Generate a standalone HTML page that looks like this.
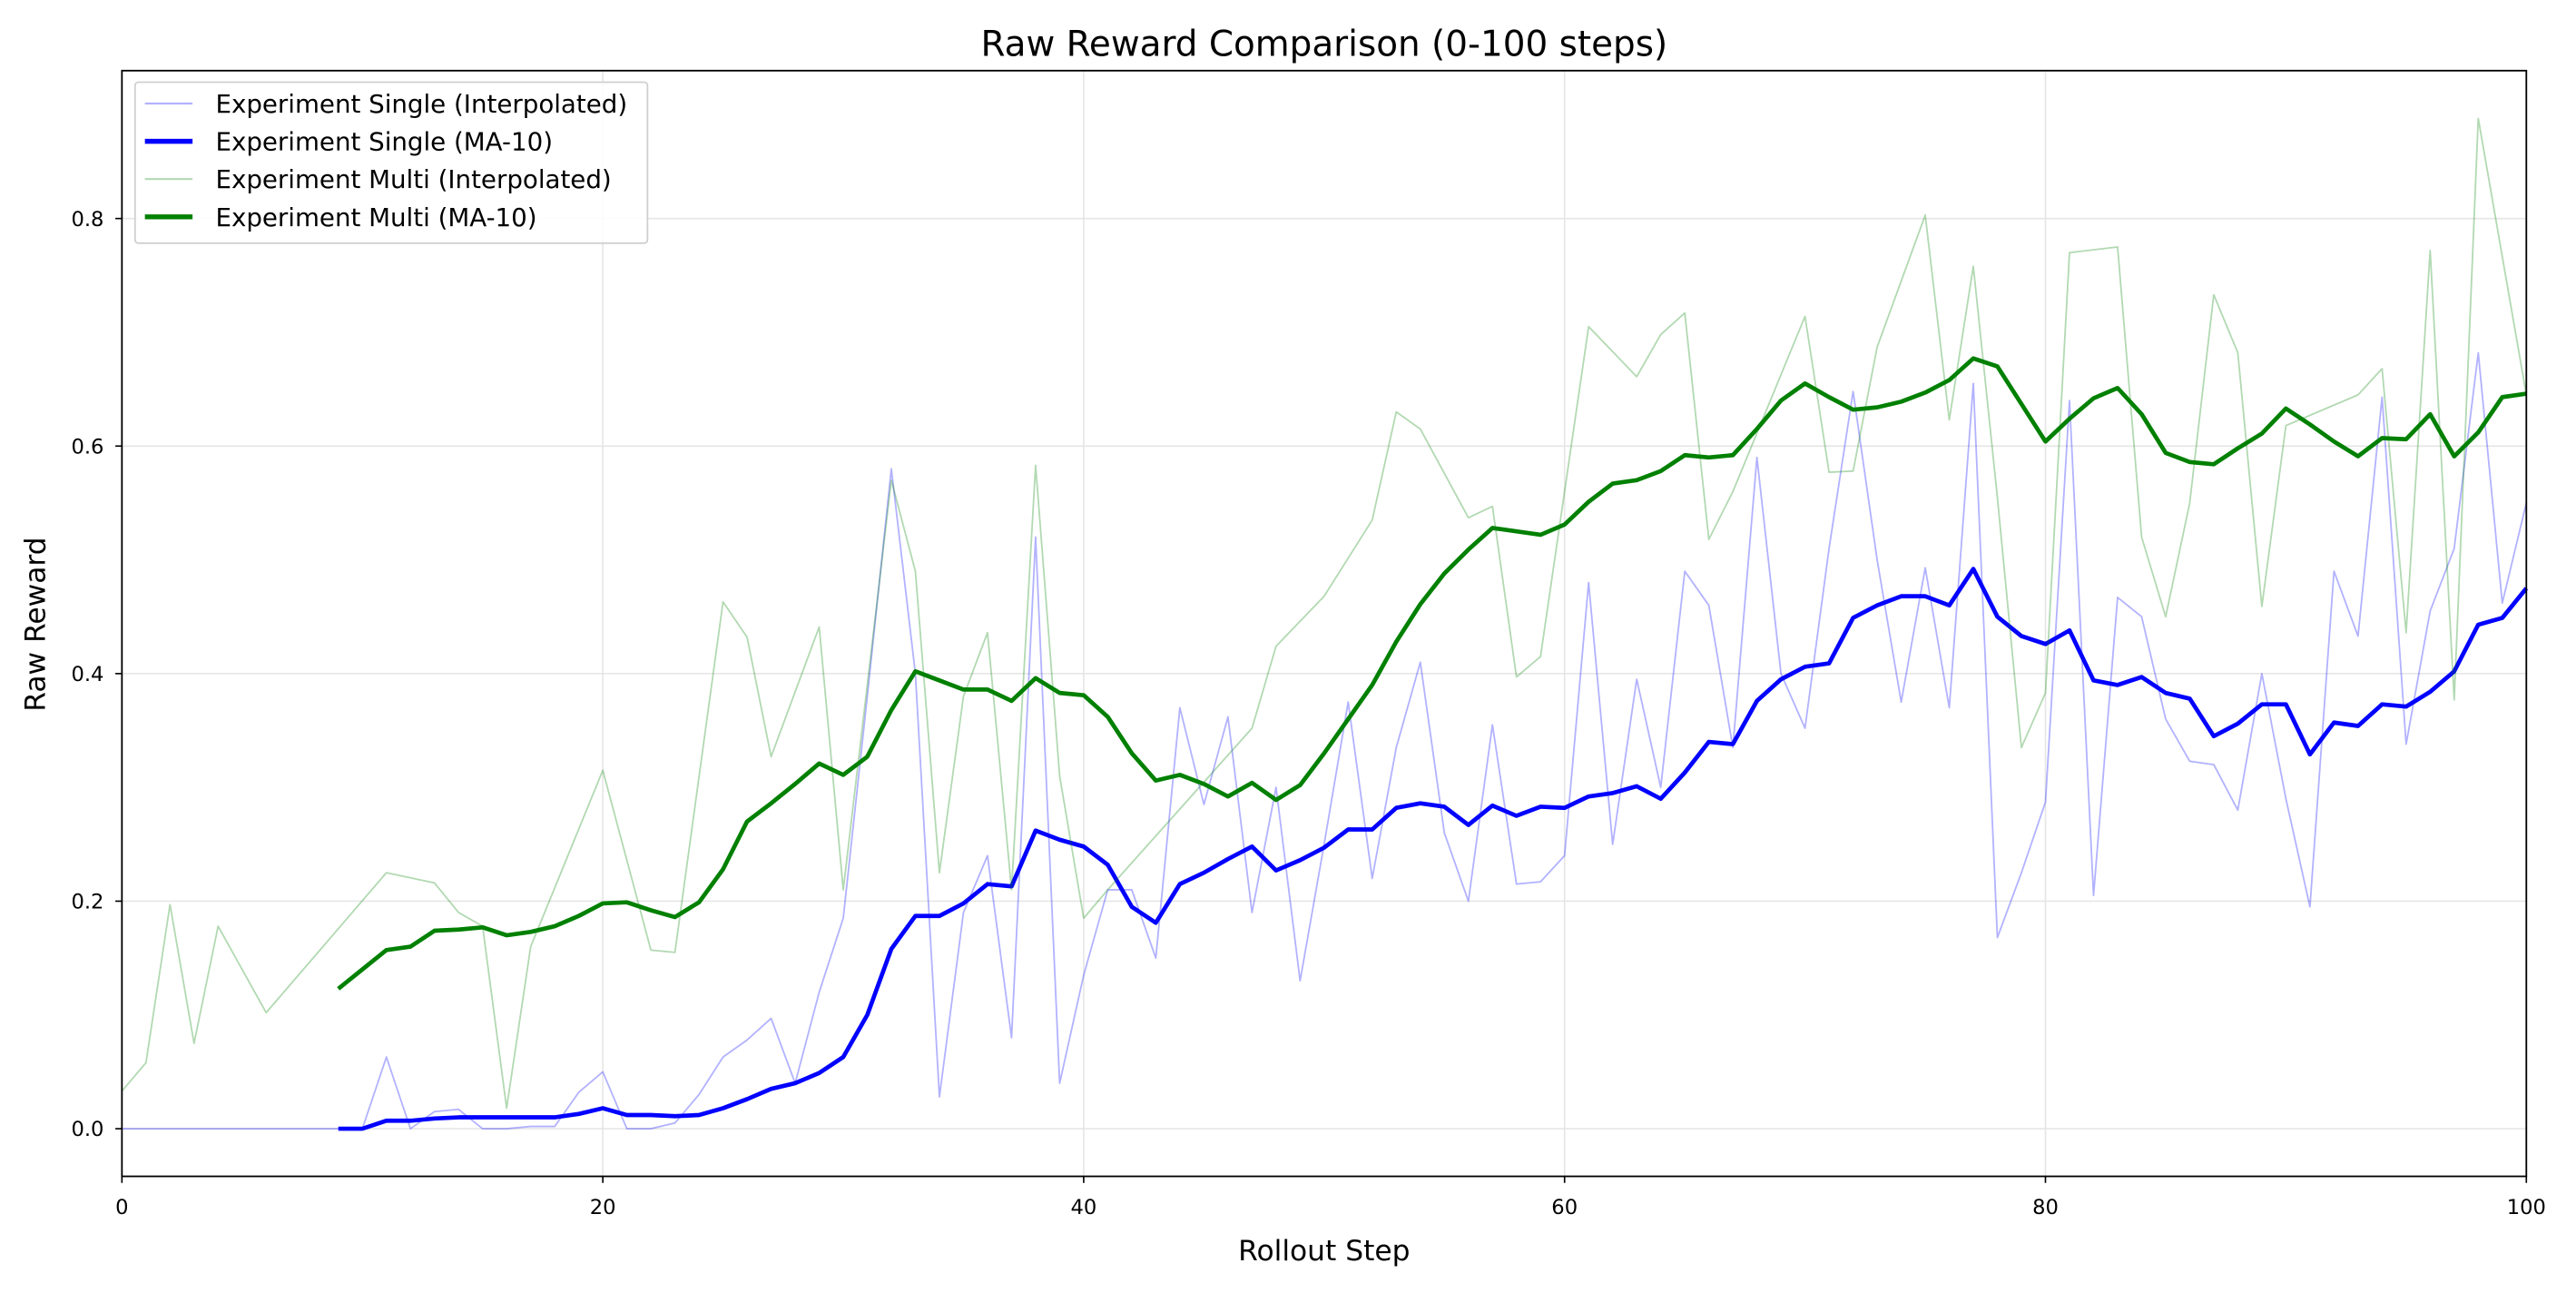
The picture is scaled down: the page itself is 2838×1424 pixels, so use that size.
<!DOCTYPE html>
<html><head><meta charset="utf-8"><style>
html,body{margin:0;padding:0;background:#fff;}
svg{display:block;font-family:"DejaVu Sans","Liberation Sans",sans-serif;}
</style></head><body>
<svg id="c" width="2838" height="1424" viewBox="0 0 1568 787" xmlns="http://www.w3.org/2000/svg">
<rect width="1568" height="787" fill="#fff"/>
<g id="grid" stroke="#e6e6e6" stroke-width="0.9"></g>
<g id="series" fill="none" stroke-linejoin="round" stroke-linecap="butt"></g>
<rect x="74" y="43" width="1464" height="673" fill="none" stroke="#000" stroke-width="1"/>
<g id="ticks" stroke="#000" stroke-width="0.9"></g>
<g font-size="12.5" fill="#000" text-anchor="middle">
<text x="74" y="739">0</text><text x="366.8" y="739">20</text><text x="659.6" y="739">40</text><text x="952.4" y="739">60</text><text x="1245.2" y="739">80</text><text x="1538" y="739">100</text>
</g>
<g font-size="12.5" fill="#000" text-anchor="end">
<text x="63" y="691.5">0.0</text><text x="63" y="553">0.2</text><text x="63" y="414.5">0.4</text><text x="63" y="276">0.6</text><text x="63" y="137.5">0.8</text>
</g>
<text x="806" y="767" font-size="17.3" text-anchor="middle">Rollout Step</text>
<text transform="translate(27,380) rotate(-90)" font-size="17.3" text-anchor="middle">Raw Reward</text>
<text x="806" y="34" font-size="21.5" text-anchor="middle">Raw Reward Comparison (0-100 steps)</text>
<g>
<rect x="82" y="50" width="312" height="98" rx="2" fill="#fff" fill-opacity="0.85" stroke="#d0d0d0" stroke-width="1"/>
<line x1="88" x2="117" y1="63" y2="63" stroke="#0000ff" stroke-opacity="0.3" stroke-width="1.2"/>
<line x1="88" x2="117" y1="86" y2="86" stroke="#0000ff" stroke-width="3"/>
<line x1="88" x2="117" y1="109" y2="109" stroke="#008000" stroke-opacity="0.3" stroke-width="1.2"/>
<line x1="88" x2="117" y1="132" y2="132" stroke="#008000" stroke-width="3"/>
<g font-size="15.3" fill="#000">
<text x="131" y="68.5">Experiment Single (Interpolated)</text>
<text x="131" y="91.5">Experiment Single (MA-10)</text>
<text x="131" y="114.5">Experiment Multi (Interpolated)</text>
<text x="131" y="137.5">Experiment Multi (MA-10)</text>
</g>
</g>
<script>
(function(){
var X=function(s){return 74+14.64*s;},Y=function(v){return 687-692.5*v;};
var NS="http://www.w3.org/2000/svg";
function el(p,t,a){var e=document.createElementNS(NS,t);for(var k in a)e.setAttribute(k,a[k]);p.appendChild(e);return e;}
var g=document.getElementById('grid'),tk=document.getElementById('ticks');
for(var s=0;s<=100;s+=20){el(g,'line',{x1:X(s),x2:X(s),y1:43,y2:716});el(tk,'line',{x1:X(s),x2:X(s),y1:716,y2:720});}
for(var v=0;v<=0.81;v+=0.2){el(g,'line',{x1:74,x2:1538,y1:Y(v),y2:Y(v)});el(tk,'line',{x1:70,x2:74,y1:Y(v),y2:Y(v)});}
var si={0:0,9:0,10:0,11:0.063,12:0,13:0.015,14:0.017,15:0,16:0,17:0.002,18:0.002,19:0.032,20:0.05,21:0,22:0,23:0.005,24:0.03,25:0.063,26:0.078,27:0.097,28:0.04,29:0.12,30:0.185,31:0.38,32:0.58,33:0.4,34:0.028,35:0.19,36:0.24,37:0.08,38:0.52,39:0.04,40:0.135,41:0.21,42:0.21,43:0.15,44:0.37,45:0.285,46:0.362,47:0.19,48:0.3,49:0.13,50:0.25,51:0.375,52:0.22,53:0.335,54:0.41,55:0.26,56:0.2,57:0.355,58:0.215,59:0.217,60:0.24,61:0.48,62:0.25,63:0.395,64:0.3,65:0.49,66:0.46,67:0.335,68:0.59,69:0.4,70:0.352,71:0.51,72:0.648,73:0.5,74:0.375,75:0.493,76:0.37,77:0.655,78:0.168,79:0.225,80:0.287,81:0.64,82:0.205,83:0.467,84:0.45,85:0.36,86:0.323,87:0.32,88:0.28,89:0.4,90:0.29,91:0.195,92:0.49,93:0.433,94:0.643,95:0.338,96:0.455,97:0.51,98:0.682,99:0.462,100:0.55};
var mi={0:0.033,1:0.058,2:0.197,3:0.075,4:0.178,5:0.14,6:0.102,11:0.225,13:0.216,14:0.19,15:0.178,16:0.018,17:0.16,20:0.315,22:0.157,23:0.155,25:0.463,26:0.432,27:0.327,29:0.441,30:0.21,31:0.39,32:0.57,33:0.49,34:0.225,35:0.38,36:0.436,37:0.21,38:0.583,39:0.31,40:0.185,41:0.21,47:0.352,48:0.424,50:0.468,52:0.535,53:0.63,54:0.615,56:0.537,57:0.547,58:0.397,59:0.415,61:0.705,63:0.661,64:0.698,65:0.717,66:0.518,67:0.56,70:0.714,71:0.577,72:0.578,73:0.687,75:0.803,76:0.623,77:0.758,78:0.555,79:0.335,80:0.383,81:0.77,83:0.775,84:0.52,85:0.45,86:0.55,87:0.733,88:0.682,89:0.459,90:0.618,93:0.645,94:0.668,95:0.436,96:0.772,97:0.377,98:0.888,100:0.645};
var sm=[0,0,0.007,0.007,0.009,0.01,0.01,0.01,0.01,0.01,0.013,0.018,0.012,0.012,0.011,0.012,0.018,0.026,0.035,0.04,0.049,0.063,0.1,0.158,0.187,0.187,0.198,0.215,0.213,0.262,0.254,0.248,0.232,0.195,0.181,0.215,0.225,0.237,0.248,0.227,0.236,0.247,0.263,0.263,0.282,0.286,0.283,0.267,0.284,0.275,0.283,0.282,0.292,0.295,0.301,0.29,0.313,0.34,0.338,0.376,0.395,0.406,0.409,0.449,0.46,0.468,0.468,0.46,0.492,0.45,0.433,0.426,0.438,0.394,0.39,0.397,0.383,0.378,0.345,0.356,0.373,0.373,0.329,0.357,0.354,0.373,0.371,0.384,0.402,0.443,0.449,0.475];
var mm=[0.123,0.14,0.157,0.16,0.174,0.175,0.177,0.17,0.173,0.178,0.187,0.198,0.199,0.192,0.186,0.199,0.228,0.27,0.286,0.303,0.321,0.311,0.327,0.368,0.402,0.394,0.386,0.386,0.376,0.396,0.383,0.381,0.362,0.33,0.306,0.311,0.303,0.292,0.304,0.289,0.302,0.33,0.36,0.39,0.428,0.461,0.488,0.509,0.528,0.525,0.522,0.531,0.551,0.567,0.57,0.578,0.592,0.59,0.592,0.615,0.64,0.655,0.643,0.632,0.634,0.639,0.647,0.658,0.677,0.67,0.637,0.604,0.624,0.642,0.651,0.628,0.594,0.586,0.584,0.598,0.611,0.633,0.619,0.604,0.591,0.607,0.606,0.628,0.591,0.612,0.643,0.646];
function ptsObj(o){return Object.keys(o).map(Number).sort(function(a,b){return a-b}).map(function(k){return X(k).toFixed(2)+','+Y(o[k]).toFixed(2)}).join(' ');}
function ptsArr(a,s0){return a.map(function(v,i){return X(s0+i).toFixed(2)+','+Y(v).toFixed(2)}).join(' ');}
var S=document.getElementById('series');
el(S,'polyline',{points:ptsObj(si),stroke:'#0000ff','stroke-opacity':0.3,'stroke-width':1});
el(S,'polyline',{points:ptsArr(sm,9),stroke:'#0000ff','stroke-width':2.6});
el(S,'polyline',{points:ptsObj(mi),stroke:'#008000','stroke-opacity':0.3,'stroke-width':1});
el(S,'polyline',{points:ptsArr(mm,9),stroke:'#008000','stroke-width':2.6});
})();
</script>
</svg>
</body></html>
